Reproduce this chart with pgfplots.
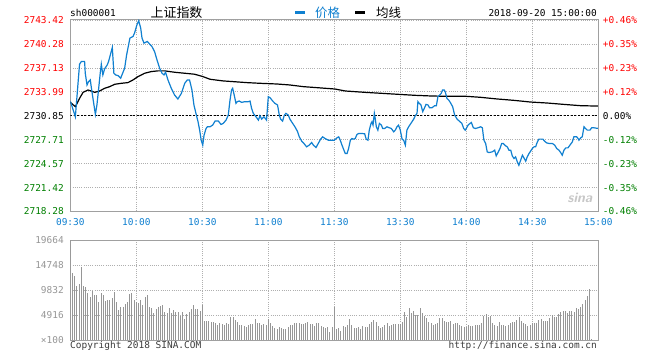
\documentclass[border=0pt]{standalone}
\usepackage{fontspec}
\setmainfont{DejaVu Sans Mono}
\newfontfamily\cjk{Noto Sans CJK SC}
\usepackage{pgfplots}
\pgfplotsset{compat=1.18}
\definecolor{pblue}{RGB}{16,128,208}
\definecolor{gridc}{RGB}{175,175,175}
\definecolor{framec}{RGB}{160,160,160}
\definecolor{volc}{RGB}{150,150,150}
\definecolor{upred}{RGB}{255,0,0}
\definecolor{dngreen}{RGB}{0,128,0}
\definecolor{foot}{RGB}{60,60,60}

\pgfplotstableread{
m v
0 2732.78
2.3 2730.72
4.2 2737.61
5.0 2737.97
6.5 2737.97
6.8 2736.43
7.6 2734.89
8.3 2735.33
9.1 2735.55
9.5 2734.67
10.3 2733.13
11.4 2731.03
12.1 2732.26
12.9 2734.45
13.6 2736.43
14.1 2737.61
14.8 2736.21
15.6 2737.00
16.8 2737.53
17.4 2737.97
18.2 2738.84
19.1 2739.81
19.8 2736.43
20.6 2736.21
21.7 2736.12
22.9 2735.77
23.6 2736.30
24.7 2737.09
25.6 2738.84
26.5 2740.16
27.1 2741.04
28.5 2741.26
29.2 2741.70
30.3 2742.80
31.1 2743.32
32.0 2742.36
32.6 2741.04
33.5 2740.38
35.0 2740.60
36.1 2740.25
37.1 2739.94
38.3 2739.28
39.4 2738.19
40.6 2737.09
41.7 2736.43
42.6 2736.21
43.3 2736.56
44.4 2735.55
45.9 2734.45
47.4 2733.57
48.9 2733.05
50.5 2733.79
52.0 2735.11
53.2 2735.55
54.2 2735.55
55.3 2734.23
56.2 2732.26
57.3 2730.94
58.0 2730.15
58.8 2728.96
59.5 2727.64
60.2 2726.99
60.8 2728.30
61.7 2729.18
62.3 2729.40
63.5 2729.40
64.7 2729.62
65.8 2730.15
67.3 2730.15
68.5 2729.71
69.5 2729.84
70.8 2730.28
71.8 2730.94
72.6 2732.91
73.3 2734.23
73.8 2734.45
74.5 2733.57
75.3 2732.48
75.9 2732.70
76.8 2732.78
77.9 2732.61
79.4 2732.70
80.9 2732.70
81.7 2732.78
82.4 2731.82
83.2 2731.16
84.4 2730.72
85.5 2730.28
86.2 2730.85
87.0 2730.41
88.0 2730.72
89.2 2730.28
90.0 2733.35
90.8 2733.22
92.0 2732.78
93.0 2732.48
94.2 2732.26
95.0 2730.94
95.6 2730.41
96.5 2730.15
97.3 2730.94
98.0 2731.16
99.1 2730.94
99.8 2730.41
101.1 2729.84
102.1 2729.40
103.2 2728.83
104.1 2728.08
105.2 2727.51
106.2 2727.21
107.4 2726.77
108.6 2726.99
109.7 2727.34
110.5 2726.99
111.7 2726.68
112.7 2727.21
113.8 2727.78
114.7 2728.08
115.8 2727.86
117.3 2727.64
118.8 2727.64
120.0 2727.64
121.2 2727.95
122.0 2728.08
122.7 2727.64
123.5 2726.99
124.2 2726.46
125.0 2725.89
125.8 2725.89
126.5 2726.55
127.3 2727.64
128.0 2727.86
128.8 2727.78
129.5 2727.86
130.3 2728.39
131.1 2728.52
132.6 2728.52
133.8 2728.48
134.5 2727.78
135.3 2727.64
135.9 2728.96
136.7 2729.84
137.1 2730.06
137.6 2729.62
138.2 2731.16
138.6 2730.50
139.1 2729.40
139.8 2728.96
140.5 2729.84
141.4 2729.62
142.0 2729.18
142.9 2729.18
143.9 2729.40
145.0 2729.27
145.9 2729.18
147.0 2728.74
147.7 2728.96
148.5 2729.40
149.2 2729.62
150.0 2728.96
150.8 2727.78
151.5 2727.64
152.3 2726.99
153.0 2728.96
153.8 2729.40
154.5 2729.71
155.3 2730.06
156.1 2730.41
156.8 2730.85
157.6 2731.16
158.0 2732.70
158.6 2732.48
159.4 2732.26
160.2 2731.38
160.9 2731.82
161.7 2732.34
162.6 2732.26
163.3 2731.90
164.4 2731.90
165.6 2732.17
166.4 2732.17
167.1 2733.35
167.9 2733.57
168.6 2733.79
169.2 2734.23
170.0 2734.23
170.5 2733.92
171.2 2733.13
172.0 2732.91
172.7 2732.61
173.8 2732.04
174.7 2730.94
175.8 2730.41
176.8 2730.15
178.0 2729.84
178.8 2729.18
179.5 2728.96
180.0 2729.18
180.8 2729.62
181.7 2729.84
182.3 2729.97
183.2 2729.27
184.2 2729.18
185.3 2729.27
186.5 2729.40
187.3 2729.27
188.0 2727.64
188.8 2727.21
189.5 2726.11
190.3 2726.02
191.8 2726.11
192.9 2726.33
193.6 2725.58
194.4 2726.02
195.3 2726.55
196.1 2727.21
196.8 2727.21
197.9 2726.90
198.6 2726.77
199.4 2726.33
200.2 2726.33
200.9 2725.58
201.7 2725.23
202.4 2725.45
203.2 2724.79
203.9 2724.35
204.7 2725.01
205.5 2725.67
206.2 2725.32
207.0 2724.88
207.7 2725.45
208.5 2725.89
209.2 2726.19
210.0 2726.55
210.8 2726.77
211.5 2726.77
212.3 2727.42
213.0 2727.78
213.8 2727.78
214.8 2727.78
215.6 2727.51
216.5 2727.29
217.6 2727.21
219.1 2727.21
220.2 2726.99
221.1 2726.55
222.1 2726.33
222.9 2726.02
223.6 2725.67
224.4 2726.33
225.2 2726.63
226.2 2726.63
227.1 2726.99
228.2 2727.42
228.9 2728.08
230.2 2728.08
230.8 2727.86
231.2 2727.64
232.0 2727.95
232.7 2728.08
233.5 2729.40
234.2 2729.18
235.0 2728.96
236.2 2728.96
237.0 2729.27
238.0 2729.27
240.0 2729.18
}\price

\pgfplotstableread{
m v
0 2732.61
2.3 2732.04
4.2 2733.13
5.8 2733.92
8.0 2734.23
9.5 2734.10
11.1 2733.92
13.3 2734.10
15.6 2734.45
17.9 2734.67
20.2 2734.98
23.2 2735.11
26.2 2735.20
28.5 2735.55
30.8 2735.99
33.8 2736.43
36.8 2736.65
39.8 2736.74
42.9 2736.74
47.4 2736.56
52.0 2736.43
56.5 2736.30
60.3 2735.99
63.5 2735.64
69.5 2735.42
74.0 2735.33
80.2 2735.20
86.2 2735.11
93.8 2735.02
99.8 2734.89
105.9 2734.67
112.0 2734.54
120.3 2734.36
125.0 2734.10
134.0 2733.92
141.7 2733.79
149.2 2733.66
156.8 2733.53
164.4 2733.44
172.0 2733.40
180.0 2733.40
186.5 2733.27
194.1 2733.05
201.7 2732.87
209.2 2732.65
216.8 2732.52
224.4 2732.34
232.0 2732.17
240.0 2732.12
}\avgline

\pgfplotstableread{
m v
0 19664
1 13241
2 12586
3 10619
4 11012
5 14421
6 10619
7 10357
8 9177
9 8390
10 9701
11 8849
12 8849
13 7407
14 9177
15 8849
16 7669
17 7866
18 7866
19 8194
20 9374
21 7407
22 5900
23 6424
24 6424
25 7079
26 7538
27 9046
28 9177
29 7866
30 7538
31 7210
32 7866
33 6883
34 8390
35 8784
36 6555
37 6227
38 5244
39 6031
40 6424
41 6686
42 6883
43 5572
44 5375
45 6227
46 5375
47 5900
48 5572
49 5572
50 4720
51 5572
52 4064
53 5113
54 5572
55 6031
56 6883
57 6031
58 6031
59 5768
60 6883
61 3802
62 3802
63 3802
64 3605
65 3605
66 3278
67 2950
68 3409
69 3146
70 2950
71 3409
72 3146
73 4589
74 4457
75 3933
76 3605
77 2950
78 2950
79 2753
80 2491
81 2950
82 3146
83 3146
84 4130
85 3409
86 3409
87 2950
88 3146
89 2950
90 4130
91 3409
92 2753
93 2294
94 2163
95 2622
96 2294
97 2163
98 2163
99 2491
100 2950
101 2950
102 3278
103 3409
104 3278
105 3146
106 3146
107 3409
108 3605
109 3146
110 3146
111 2753
112 3409
113 3409
114 2753
115 2491
116 2294
117 2491
118 1639
119 2491
120 6424
121 2163
122 2294
123 1770
124 2753
125 2491
126 2950
127 4130
128 2950
129 2294
130 2425
131 2491
132 2098
133 2753
134 2491
135 2491
136 3146
137 3605
138 3933
139 3605
140 2753
141 2294
142 2491
143 2950
144 3278
145 2753
146 2950
147 3146
148 3146
149 3146
150 3146
151 3605
152 5441
153 4589
154 6227
155 5244
156 5703
157 4916
158 4916
159 6227
160 5244
161 4720
162 4261
163 3605
164 3278
165 2950
166 3146
167 3278
168 4261
169 4261
170 3736
171 3605
172 3605
173 3736
174 3146
175 3278
176 3409
177 2950
178 2753
179 2491
180 2622
181 2950
182 2753
183 2753
184 2950
185 2950
186 2950
187 3409
188 4785
189 5113
190 4457
191 4720
192 3409
193 2950
194 2753
195 3605
196 2950
197 2950
198 2753
199 2950
200 3409
201 3605
202 3605
203 3933
204 4457
205 3802
206 3278
207 3146
208 2753
209 2950
210 3409
211 3409
212 3409
213 3933
214 4130
215 3802
216 3802
217 3802
218 4261
219 4916
220 4589
221 4589
222 5113
223 5572
224 5703
225 5703
226 5375
227 5768
228 5768
229 5572
230 6227
231 6031
232 6555
233 7079
234 7866
235 8653
236 9963
237 131
}\vol

\pgfplotsset{
  base/.style={
    scale only axis, width=528bp,
    xmin=0, xmax=240, xtick={0,30,...,240},
    grid=major,
    major grid style={gridc, line width=0.8bp, dash pattern=on 1bp off 1.2bp},
    axis line style={framec, line width=1bp},
    major tick length=0pt,
    tick label style={font=\fontsize{9.5}{10}\selectfont},
    scaled y ticks=false,
  }
}

\begin{document}
\begin{tikzpicture}
\path[use as bounding box, fill=white] (0bp,0bp) rectangle (660bp,360bp);

% main price chart
\begin{axis}[base, at={(70.3bp,148.5bp)}, anchor=south west, height=191.5bp,
  ymin=2718.28, ymax=2743.42,
  ytick={2718.28,2721.42,2724.57,2727.71,2730.85,2733.99,2737.13,2740.28,2743.42},
  yticklabels={\textcolor{dngreen}{2718.28},\textcolor{dngreen}{2721.42},\textcolor{dngreen}{2724.57},\textcolor{dngreen}{2727.71},2730.85,\textcolor{upred}{2733.99},\textcolor{upred}{2737.13},\textcolor{upred}{2740.28},\textcolor{upred}{2743.42}},
  xticklabels={09:30,10:00,10:30,11:00,11:30,13:30,14:00,14:30,15:00},
  xticklabel style={text=pblue, yshift=-3bp},
  yticklabel style={xshift=-3bp},
]
\addplot[black, line width=1bp, dash pattern=on 2bp off 1.5bp] coordinates {(0,2730.85) (240,2730.85)};
\addplot[black, line width=1.2bp] table[x=m, y=v] {\avgline};
\addplot[pblue, line width=1.2bp] table[x=m, y=v] {\price};
\end{axis}

% right percentage labels
\begin{axis}[scale only axis, width=528bp, at={(70.3bp,148.5bp)}, anchor=south west, height=191.5bp,
  xmin=0, xmax=240, ymin=2718.28, ymax=2743.42,
  axis x line=none, axis y line*=right,
  axis line style={framec, line width=1bp},
  major tick length=0pt,
  tick label style={font=\fontsize{9.5}{10}\selectfont},
  scaled y ticks=false,
  ytick={2718.28,2721.42,2724.57,2727.71,2730.85,2733.99,2737.13,2740.28,2743.42},
  yticklabels={\textcolor{dngreen}{-0.46\%},\textcolor{dngreen}{-0.35\%},\textcolor{dngreen}{-0.23\%},\textcolor{dngreen}{-0.12\%},0.00\%,\textcolor{upred}{+0.12\%},\textcolor{upred}{+0.23\%},\textcolor{upred}{+0.35\%},\textcolor{upred}{+0.46\%}},
  yticklabel style={xshift=1bp},
]
\end{axis}

% volume chart
\begin{axis}[base, at={(70.3bp,20bp)}, anchor=south west, height=99.7bp,
  ymin=0, ymax=19664,
  ytick={0,4916,9832,14748,19664},
  yticklabels={×100,4916,9832,14748,19664},
  xticklabels={},
  yticklabel style={text=volc, xshift=-3bp},
]
\addplot[ycomb, volc, line width=1bp] table[x=m, y=v] {\vol};
\end{axis}

% header
\node[anchor=west, inner sep=0, font=\fontsize{9.5}{10}\selectfont] at (70bp,347bp) {sh000001};
\node[inner sep=0, font=\cjk\fontsize{13}{14}\selectfont] at (176.5bp,347.5bp) {上证指数};
\draw[pblue, line width=3bp] (295bp,347.3bp) -- (305bp,347.3bp);
\node[inner sep=0, text=pblue, font=\cjk\fontsize{12.5}{13}\selectfont] at (327.5bp,347.5bp) {价格};
\draw[black, line width=3bp] (355bp,347.3bp) -- (365bp,347.3bp);
\node[inner sep=0, font=\cjk\fontsize{12.5}{13}\selectfont] at (388.5bp,347.5bp) {均线};
\node[anchor=east, inner sep=0, font=\fontsize{9.5}{10}\selectfont] at (597bp,347bp) {2018-09-20 15:00:00};

% watermark
\node[text=black!22, font=\fontsize{14}{14}\bfseries\itshape\sffamily] at (580bp,162bp) {sina};

% footer
\node[anchor=west, inner sep=0, text=foot, font=\fontsize{9.5}{10}\selectfont] at (70bp,14bp) {Copyright 2018 SINA.COM};
\node[anchor=east, inner sep=0, text=foot, font=\fontsize{9.5}{10}\selectfont] at (597bp,14bp) {http://finance.sina.com.cn};
\end{tikzpicture}
\end{document}
